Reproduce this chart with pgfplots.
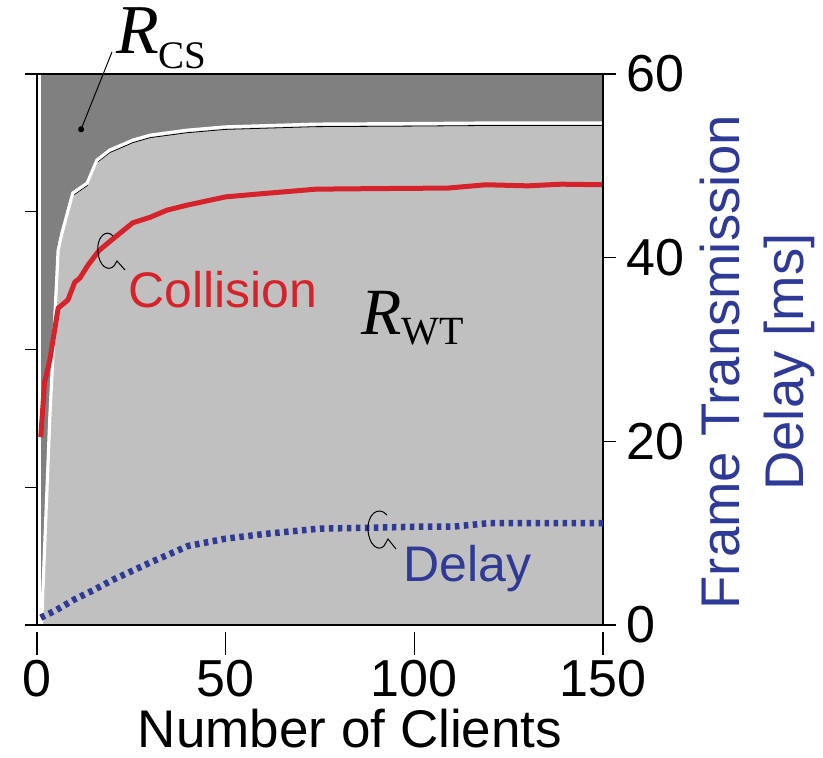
\documentclass[border=0pt]{standalone}
\usepackage{pgfplots}
\pgfplotsset{compat=1.18}
\usepackage{fontspec}
\setmainfont{Liberation Sans}
\newfontfamily\seriffont{Liberation Serif}
\usetikzlibrary{arrows.meta}
\definecolor{cred}{RGB}{214,35,43}
\definecolor{cblue}{RGB}{46,58,150}
\definecolor{dgray}{RGB}{128,128,128}
\definecolor{lgray}{RGB}{192,192,192}

\begin{document}
\begin{tikzpicture}
\pgfplotsset{
  every axis/.append style={scale only axis, width=566pt, height=551pt,
    xmin=0, xmax=150,
    tick align=outside, major tick length=13pt,
    axis line style={line width=1.5pt},
    every tick/.style={line width=1.2pt, black},
    ticklabel style={font=\fontsize{52}{60}\selectfont},
    /pgf/number format/assume math mode=true},
}
\begin{axis}[ymin=0, ymax=1, axis on top,
  ytick=\empty,
  xtick={0,50,100,150}, xtick pos=left, major tick length=23pt,
  xtick style={yshift=-7pt},
  xticklabel style={yshift=-9pt}]
\coordinate (SW) at (rel axis cs:0,0);
% R_CS region
\addplot[fill=dgray, draw=none] coordinates {(1,1) (150,1)} \closedcycle;
% R_WT region
\addplot[fill=lgray, draw=none] coordinates {
(1.2,0) (3.4,0.377) (5.6,0.68) (6.6,0.711) (9.5,0.784) (11.4,0.793) (13.3,0.802)
(15.9,0.844) (19.3,0.862) (25.4,0.880) (30,0.889) (39.8,0.898) (50,0.904)
(74,0.909) (100,0.910) (118,0.911) (150,0.911)} \closedcycle;
\addplot[black, line width=0.8pt, yshift=-2.5pt] coordinates {
(1.2,0) (3.4,0.377) (5.6,0.68) (6.6,0.711) (9.5,0.784) (11.4,0.793) (13.3,0.802)
(15.9,0.844) (19.3,0.862) (25.4,0.880) (30,0.889) (39.8,0.898) (50,0.904)
(74,0.909) (100,0.910) (118,0.911) (150,0.911)};
\addplot[white, line width=3.2pt] coordinates {
(1.2,0) (3.4,0.377) (5.6,0.68) (6.6,0.711) (9.5,0.784) (11.4,0.793) (13.3,0.802)
(15.9,0.844) (19.3,0.862) (25.4,0.880) (30,0.889) (39.8,0.898) (50,0.904)
(74,0.909) (100,0.910) (118,0.911) (150,0.911)};
% Collision
\addplot[cred, line width=5pt, line join=round] coordinates {
(1,0.341) (2,0.44) (3.4,0.481) (5.6,0.575) (8.2,0.59) (10,0.622) (11.4,0.63)
(13.5,0.653) (16.5,0.68) (20,0.70) (25.4,0.730) (30,0.740) (34.5,0.753)
(39.8,0.762) (50,0.777) (60,0.783) (74,0.791) (90,0.792) (109,0.793)
(119,0.799) (130,0.797) (139,0.800) (150,0.799)};
\end{axis}
% left ticks (unlabelled)
\begin{axis}[ymin=0, ymax=1, axis x line=none, axis y line*=left,
  ytick={0,0.25,0.5,0.75,1}, yticklabels={}, major tick length=12pt]
\end{axis}
% right axis: delay
\begin{axis}[ymin=0, ymax=60, axis x line=none, axis y line*=right,
  ytick={0,20,40,60}, yticklabel style={xshift=7pt}]
\addplot[cblue, line width=6.5pt, dash pattern=on 4.5pt off 4.5pt] coordinates {
(1,0.8) (5,1.6) (10,2.8) (15,3.8) (20,4.9) (30,6.8) (40,8.6) (50,9.4)
(60,9.9) (75,10.5) (90,10.6) (100,10.7) (110,10.7) (120,11.1) (130,11.1)
(140,11.1) (150,11.1)};
\end{axis}
\begin{scope}[shift={(SW)}, xshift=-37pt, yshift=625pt, x=1pt, y=-1pt]
\node[anchor=base west, inner sep=0, text=cred, font=\fontsize{50}{60}\selectfont] at (128,308) {Collision};
\node[anchor=base west, inner sep=0, text=cblue, font=\fontsize{50}{60}\selectfont] at (403,582) {Delay};
\node[anchor=base west, inner sep=0] at (116,54) {\seriffont\fontsize{70}{70}\selectfont\itshape R\raisebox{-15pt}{\upshape\fontsize{39}{40}\selectfont CS}};
\node[anchor=base west, inner sep=0] at (361,335) {\seriffont\fontsize{66}{70}\selectfont\itshape R\raisebox{-10pt}{\upshape\fontsize{40}{40}\selectfont WT}};
\node[rotate=90, align=center, inner sep=0, text=cblue, font=\fontsize{54.5}{64}\selectfont] at (757,362) {Frame Transmission\\Delay [ms]};
\node[anchor=base, inner sep=0, font=\fontsize{53}{60}\selectfont] at (350,748) {Number of Clients};
\draw[line width=1pt, -{Circle[length=6pt]}] (112,52) -- (80,132);
\draw[line width=1pt] (113,236) .. controls (106,228) and (96,238) .. (98,252) .. controls (99,266) and (108,272) .. (114,266) -- (117,261) -- (125,270);
\draw[line width=1pt] (387,515) .. controls (378,505) and (367,515) .. (368,530) .. controls (369,545) and (378,552) .. (384,546) -- (388,539) -- (396,549);
\pgfresetboundingbox
\path[use as bounding box] (0,0) rectangle (823,758);
\end{scope}
\end{tikzpicture}
\end{document}
